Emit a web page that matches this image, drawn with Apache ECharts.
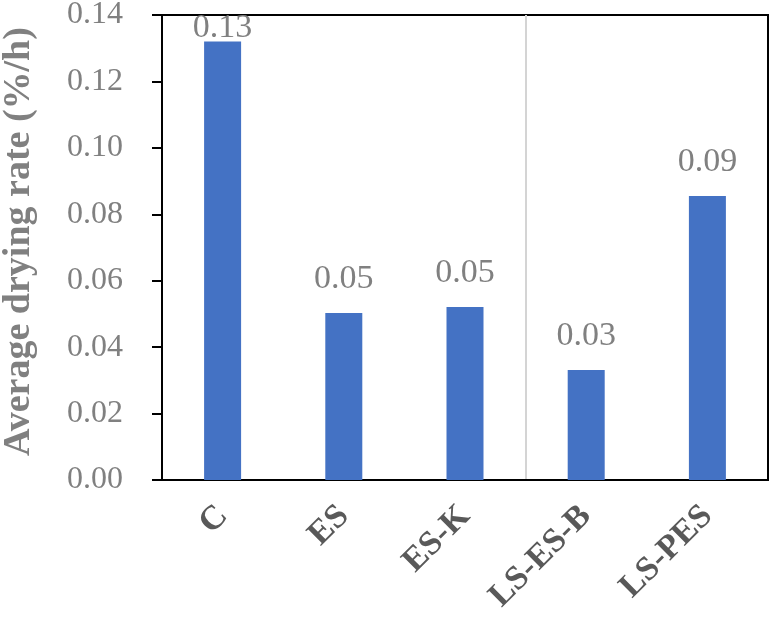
<!DOCTYPE html>
<html><head><meta charset="utf-8">
<script src="https://cdn.jsdelivr.net/npm/echarts@6/dist/echarts.min.js"></script>
<style>html,body{margin:0;padding:0;background:#fff}#c{width:773px;height:617px}</style>
</head><body><div id="c"></div>
<script>
const categories = ['C', 'ES', 'ES-K', 'LS-ES-B', 'LS-PES'];
const dryingRate = [0.132, 0.0503, 0.0521, 0.0331, 0.0855];
const yTicks = { min: 0, max: 0.14, interval: 0.02 };
const yTitle = 'Average drying rate (%/h)';
const serif = '"Liberation Serif", "Times New Roman", serif';

const barData = dryingRate.map((v, i) => i === 0
  ? { value: v, label: { distance: -4 } }
  : { value: v });

const splitColors = categories.concat(['']).map((c, i) => i === 3 ? '#d4d4d4' : 'rgba(0,0,0,0)');

const chart = echarts.init(document.getElementById('c'));
chart.setOption({
  animation: false,
  grid: { left: 162, right: 5, top: 15, bottom: 137, outerBoundsMode: 'none', containLabel: false, show: true, borderColor: '#000', borderWidth: 2, backgroundColor: 'transparent' },
  xAxis: {
    type: 'category', data: categories,
    axisLine: { lineStyle: { color: '#000', width: 2 } },
    axisTick: { show: false, interval: 0 },
    splitLine: { show: true, interval: 0, lineStyle: { color: splitColors, width: 2 } },
    axisLabel: { rotate: 45, margin: 31, fontFamily: serif, fontWeight: 'bold', fontSize: 34, color: '#595959', interval: 0 }
  },
  yAxis: {
    type: 'value', min: yTicks.min, max: yTicks.max, interval: yTicks.interval,
    name: yTitle, nameLocation: 'middle', nameGap: 124, nameRotate: 90,
    nameTextStyle: { fontFamily: serif, fontWeight: 'bold', fontSize: 38, color: '#808080', padding: [0, 0, 0, 12] },
    axisLine: { show: true, lineStyle: { color: '#000', width: 2 } },
    axisTick: { show: true, inside: false, length: 10, lineStyle: { color: '#000', width: 2 } },
    splitLine: { show: false },
    axisLabel: { margin: 39, fontFamily: serif, fontSize: 32, color: '#808080', formatter: v => v.toFixed(2) }
  },
  series: [{
    type: 'bar', data: barData, barWidth: 37,
    itemStyle: { color: '#4472c4' },
    label: { show: true, position: 'top', distance: 17, fontFamily: serif, fontSize: 34, color: '#808080', formatter: p => p.value.toFixed(2) }
  }]
});
</script></body></html>
